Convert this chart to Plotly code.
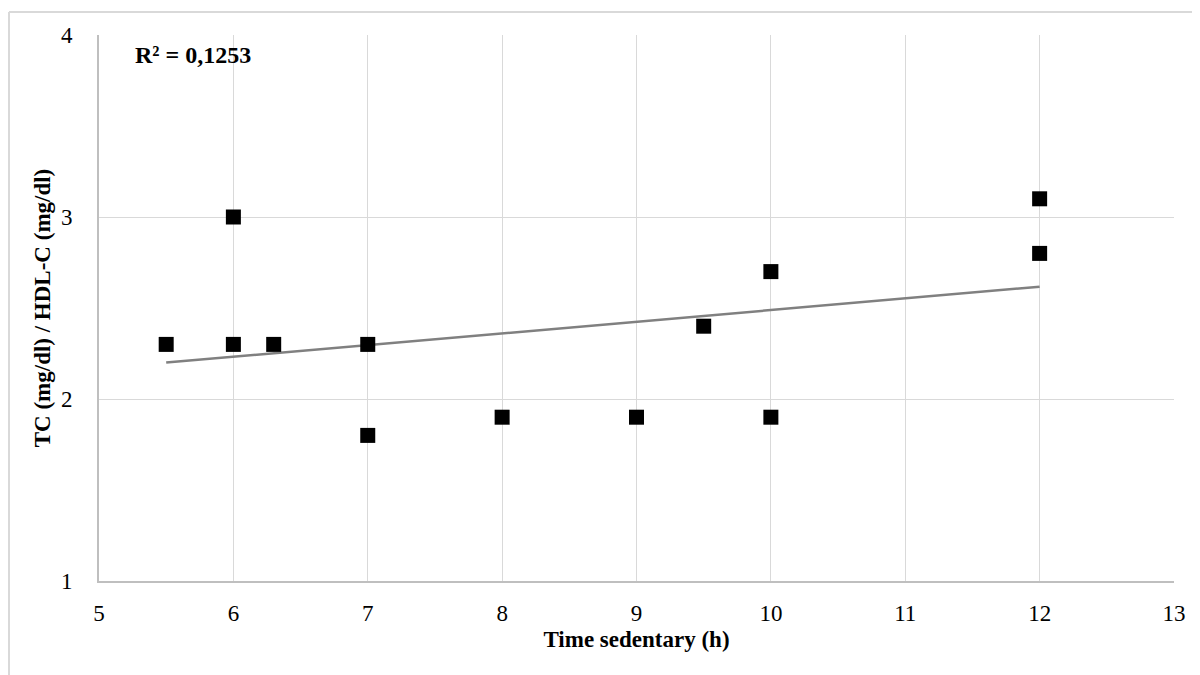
import plotly.graph_objects as go

# Data
time_sedentary_h = [5.5, 6, 6, 6.3, 7, 7, 8, 9, 9.5, 10, 10, 12, 12]
tc_hdl_ratio = [2.3, 3.0, 2.3, 2.3, 2.3, 1.8, 1.9, 1.9, 2.4, 2.7, 1.9, 3.1, 2.8]
# Linear trendline endpoints as drawn in the reference
trend_x = [5.5, 12]
trend_y = [2.20, 2.617]
x_ticks = [5, 6, 7, 8, 9, 10, 11, 12, 13]
y_ticks = [1, 2, 3, 4]
r2_label = "R² = 0,1253"
x_title = "Time sedentary (h)"
y_title = "TC (mg/dl) / HDL-C (mg/dl)"

FONT = "Liberation Serif, Times New Roman, serif"

fig = go.Figure()
fig.add_trace(go.Scatter(
    x=trend_x, y=trend_y, mode="lines",
    line=dict(color="#808080", width=2.5),
    showlegend=False, hoverinfo="skip",
))
fig.add_trace(go.Scatter(
    x=time_sedentary_h, y=tc_hdl_ratio, mode="markers",
    marker=dict(symbol="square", size=15, color="black"),
    showlegend=False, hoverinfo="x+y",
))

# page body has an 8px margin; compensate so plot area lands at x 99-1174, y 35-581
OFF = 8
W, H = 1200, 675
L, T = 99 - OFF, 35 - OFF
R = (W + OFF) - 1174
B = (H + OFF) - 581
pw, ph = W - L - R, H - T - B
plot_bottom = 581  # screen px
plot_left = 99

def px_x(sx):
    return (sx - plot_left) / pw

def px_y(sy):
    return (plot_bottom - sy) / ph

fig.update_layout(
    width=W, height=H,
    margin=dict(l=L, r=R, t=T, b=B),
    paper_bgcolor="white", plot_bgcolor="white",
    font=dict(family=FONT, size=23, color="black"),
    xaxis=dict(
        range=[5, 13], tickvals=x_ticks, ticktext=[str(v) for v in x_ticks],
        showgrid=True, gridcolor="#d9d9d9", gridwidth=1.3,
        showline=True, linecolor="#bfbfbf", linewidth=2,
        zeroline=False, ticks="", ticklabelstandoff=10,
        title=dict(text="<b>" + x_title + "</b>", standoff=6,
                   font=dict(family=FONT, size=23)),
    ),
    yaxis=dict(
        range=[1, 4], tickvals=y_ticks, ticktext=[str(v) for v in y_ticks],
        showgrid=True, gridcolor="#d9d9d9", gridwidth=1.3,
        showline=True, linecolor="#bfbfbf", linewidth=2,
        zeroline=False, ticks="", ticklabelstandoff=20,
        title=dict(text="<b>" + y_title + "</b>", standoff=4,
                   font=dict(family=FONT, size=23)),
    ),
    annotations=[dict(
        text="<b>" + r2_label + "</b>", xref="paper", yref="paper",
        x=px_x(133), y=px_y(55), xanchor="left", yanchor="middle",
        showarrow=False, font=dict(family=FONT, size=24, color="black"),
    )],
    shapes=[
        dict(type="line", xref="paper", yref="paper",
             x0=px_x(9), x1=px_x(1210), y0=px_y(12), y1=px_y(12),
             line=dict(color="#d9d9d9", width=2)),
        dict(type="line", xref="paper", yref="paper",
             x0=px_x(9), x1=px_x(9), y0=px_y(12), y1=px_y(690),
             line=dict(color="#d9d9d9", width=2)),
    ],
)

fig.write_html("out.html")
